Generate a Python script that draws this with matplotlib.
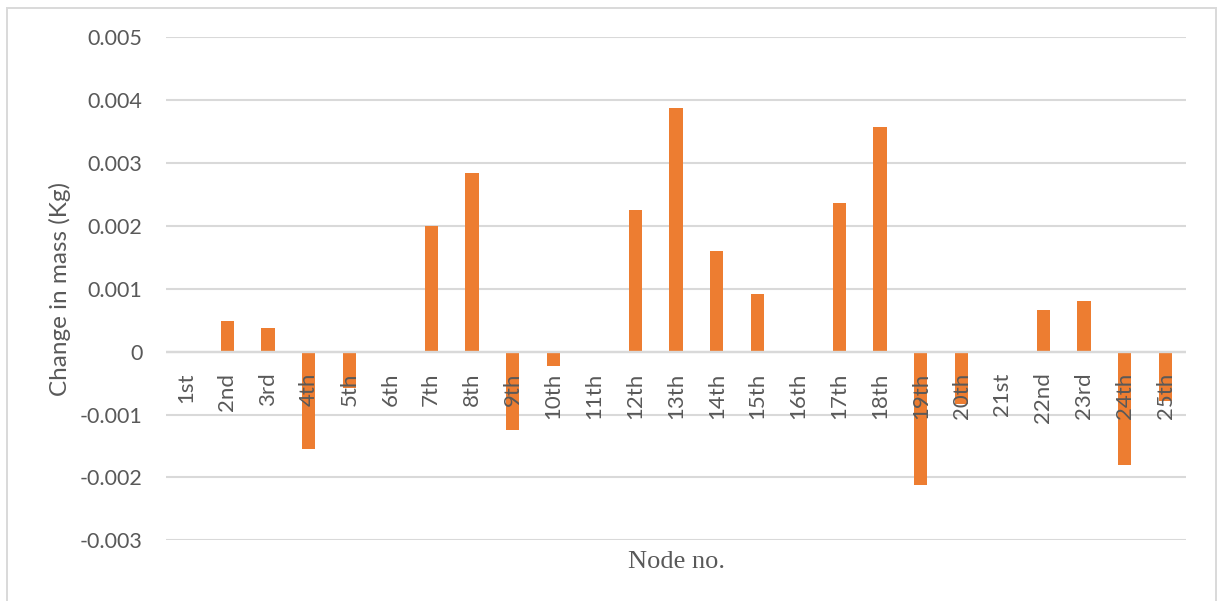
import matplotlib
matplotlib.use("Agg")
import matplotlib.pyplot as plt
from matplotlib.patches import Rectangle

# Node labels and the change in mass at each node (kg)
nodes = ["1st", "2nd", "3rd", "4th", "5th", "6th", "7th", "8th", "9th", "10th",
         "11th", "12th", "13th", "14th", "15th", "16th", "17th", "18th", "19th",
         "20th", "21st", "22nd", "23rd", "24th", "25th"]
mass_change = [0.0, 0.00048, 0.00038, -0.00154, -0.00058, 0.0, 0.00200, 0.00284,
               -0.00125, -0.00023, 0.0, 0.00225, 0.00388, 0.00160, 0.00092, 0.0,
               0.00237, 0.00358, -0.00212, -0.00083, 0.0, 0.00067, 0.00080,
               -0.00181, -0.00079]

y_ticks = [-0.003, -0.002, -0.001, 0.0, 0.001, 0.002, 0.003, 0.004, 0.005]
y_tick_labels = ["-0.003", "-0.002", "-0.001", "0", "0.001", "0.002",
                 "0.003", "0.004", "0.005"]

BAR_COLOR = "#ED7D31"
GRID_COLOR = "#D9D9D9"
TEXT_COLOR = "#595959"
FONT = ["Lato", "DejaVu Sans"]

W, H = 1222, 601
fig = plt.figure(figsize=(W / 100, H / 100), dpi=100)
fig.patch.set_facecolor("white")

# light chart border
fig.patches.append(Rectangle((7 / W, -0.05), (1216 - 7) / W, 1.05 - 8 / H,
                             transform=fig.transFigure, fill=False,
                             edgecolor=GRID_COLOR, linewidth=1.4))

left, right, top, bottom = 166, 1186, 37.3, 540.3
ax = fig.add_axes([left / W, 1 - bottom / H, (right - left) / W, (bottom - top) / H])

x = list(range(len(nodes)))
ax.bar(x, mass_change, width=0.32, color=BAR_COLOR, zorder=1)

ax.set_xlim(-0.5, len(nodes) - 0.5)
ax.set_ylim(y_ticks[0], y_ticks[-1])

# horizontal gridlines behind the bars
ax.set_yticks(y_ticks)
ax.set_yticklabels(y_tick_labels, fontsize=15.5, color=TEXT_COLOR, family=FONT)
ax.yaxis.grid(True, color=GRID_COLOR, linewidth=1.5)
ax.yaxis.set_zorder(0.5)
ax.tick_params(axis="y", length=0, pad=17)

# zero line drawn over the bars
ax.axhline(0, color=GRID_COLOR, linewidth=1.7, zorder=2)

# category labels sit just below the zero line
ax.spines["bottom"].set_position(("data", 0))
for s in ax.spines.values():
    s.set_visible(False)
ax.set_xticks(x)
ax.set_xticklabels(nodes, rotation=90, fontsize=16, color=TEXT_COLOR,
                   family=FONT, va="top", ha="center")
ax.tick_params(axis="x", length=0, pad=15)
ax.xaxis.set_zorder(3)

ax.text(-0.104, 0.5, "Change in mass (Kg)", transform=ax.transAxes,
        rotation=90, ha="center", va="center", fontsize=17.5,
        color=TEXT_COLOR, family=FONT)
ax.text(0.5, -(562 - bottom) / (bottom - top), "Node no.", transform=ax.transAxes,
        ha="center", va="center", fontsize=19, color=TEXT_COLOR,
        family=["Liberation Serif", "DejaVu Serif"])

fig.savefig("out.png", dpi=100, facecolor="white")
